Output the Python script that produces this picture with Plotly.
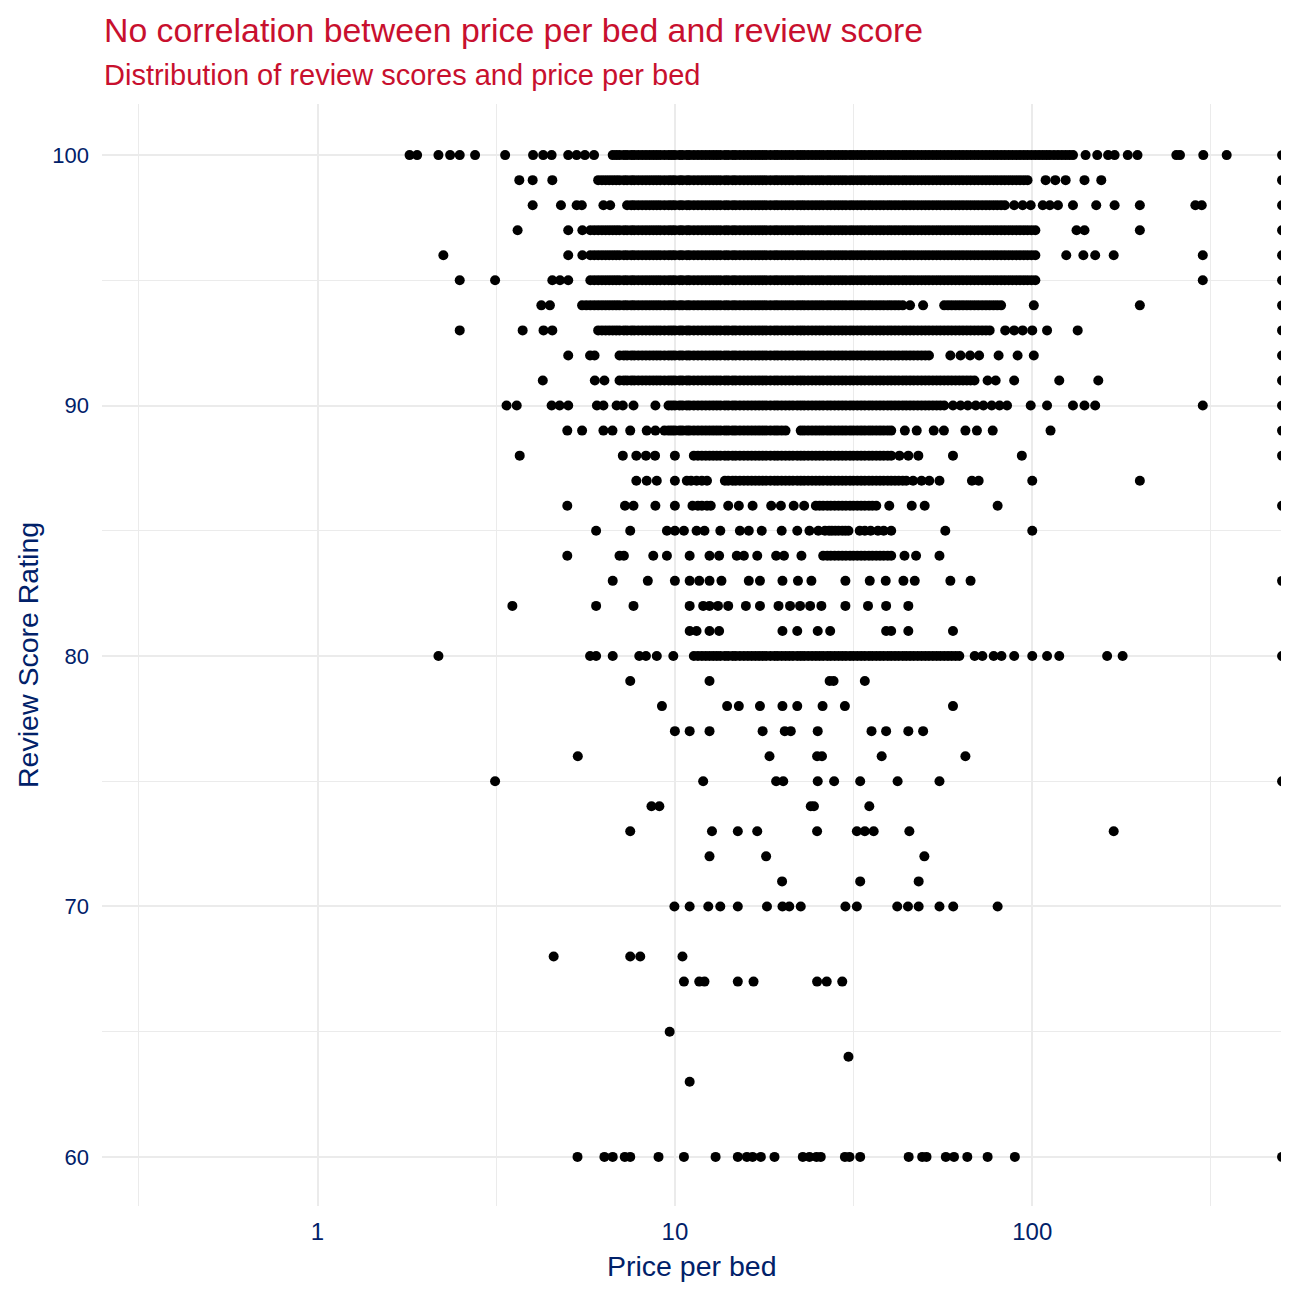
import plotly.graph_objects as go

# Price-per-bed levels that make up the solid (over-plotted) runs
run_a = [5.0, 5.12, 5.25, 5.38, 5.5, 5.65, 5.8, 5.95, 6.1, 6.25, 6.4, 6.55, 6.7, 6.85]
run_b = [7.0, 7.2, 7.35, 7.55, 7.7, 7.9, 8.1, 8.3, 8.5, 8.7, 8.9, 9.1, 9.35, 9.6, 9.8]
run_c = [10.0, 10.3, 10.5, 10.8, 11.0, 11.3, 11.6, 11.9, 12.2, 12.5, 12.8, 13.1, 13.4, 13.8,
         14.1, 14.5, 14.8]
run_d = [15.2, 15.6, 16.0, 16.4, 16.8, 17.2, 17.6, 18.0, 18.5, 19.0, 19.4, 19.9, 20.4, 20.9]
run_e = [21.4, 22.0, 22.5, 23.0, 23.6, 24.2, 24.8, 25.4, 26.0, 26.7, 27.3, 28.0, 28.7, 29.4]
run_f = [30.1, 30.9, 31.6, 32.4, 33.2, 34.0, 34.9, 35.7, 36.6, 37.5, 38.4, 39.4, 40.3, 41.3]
run_g = [42.3, 43.4, 44.4, 45.5, 46.6, 47.8, 49.0, 50.2, 51.4, 52.7, 54.0, 55.3, 56.7, 58.1]
run_h = [59.5, 61.0, 62.5, 64.0, 65.6, 67.2, 68.9, 70.6, 72.4, 74.2, 76.0, 77.9, 79.8, 81.8]
run_i = [83.8, 85.9, 88.0, 90.2, 92.4, 94.7, 97.0, 99.5, 102, 104.5, 107, 109.5, 112, 115,
         118, 121, 124, 127, 130]

# price per bed, one list per review score
score_100 = ([1.81, 1.9, 2.18, 2.35, 2.5, 2.76, 3.35, 4.01, 4.28, 4.52, 5.03, 5.31, 5.6, 5.94]
             + run_a[12:] + run_b + run_c + run_d + run_e + run_f + run_g + run_h + run_i
             + [141, 152, 163, 170, 185, 197, 253, 259, 301, 350, 500])
score_99 = ([3.67, 4.0, 4.54] + run_a[8:] + run_b + run_c + run_d + run_e + run_f + run_g
            + run_h + run_i[:7] + [109, 116, 124, 140, 156, 500])
score_98 = ([4.0, 4.8, 5.31, 5.49, 6.31, 6.59] + run_b[2:] + run_c + run_d + run_e + run_f
            + run_g + run_h + run_i[:1]
            + [89.0, 94.0, 99.0, 107, 112, 118, 130, 151, 170, 200, 286, 298, 500])
score_97 = ([3.63, 5.03, 5.51] + run_a[6:] + run_b + run_c + run_d + run_e + run_f + run_g
            + run_h + run_i[:9] + [133, 140, 200, 500])
score_96 = ([2.25, 5.03, 5.51] + run_a[6:] + run_b + run_c + run_d + run_e + run_f + run_g
            + run_h + run_i[:9] + [124.5, 139, 150, 169, 300, 500])
score_95 = ([2.5, 3.14, 4.54, 4.77, 5.03] + run_a[6:] + run_b + run_c + run_d + run_e + run_f
            + run_g + run_h + run_i[:9] + [300, 500])
score_94 = ([4.23, 4.47] + run_a[4:] + run_b + run_c + run_d + run_e + run_f + run_g[:2]
            + [45.5, 49.5] + run_g[12:] + run_h + [101, 200, 500])
score_93 = ([2.5, 3.75, 4.29, 4.54] + run_a[8:] + run_b + run_c + run_d + run_e + run_f + run_g
            + run_h[:11] + [84.0, 89.0, 94.0, 100, 110, 134, 500])
score_92 = ([5.03, 5.79, 5.96] + run_b + run_c + run_d + run_e + run_f + run_g[:9]
            + [59.0, 63.0, 67.0, 71.0, 80.5, 91.0, 101, 500])
score_91 = ([4.27, 5.97, 6.35] + run_b + run_c + run_d + run_e + run_f + run_g + run_h[:7]
            + [75.0, 79.0, 89.0, 119, 153, 500])
score_90 = ([3.38, 3.61, 4.52, 4.76, 5.03, 6.05, 6.31, 6.87, 7.15, 7.66, 8.82] + run_b[13:]
            + run_c + run_d + run_e + run_f + run_g[:13]
            + [60.0, 63.0, 66.0, 69.5, 73.0, 77.0, 81.0, 85.0, 99.0, 110, 130, 140, 150, 300, 500])
score_89 = ([5.0, 5.5, 6.31, 6.69, 7.5, 8.34, 8.82] + run_b[12:] + run_c + run_d[:13]
            + run_e[2:] + run_f[:13]
            + [44.0, 47.5, 53.0, 56.6, 65.0, 70.0, 77.5, 112.5, 500])
score_88 = ([3.68, 7.15, 7.8, 8.3, 8.8, 10.0] + run_c[5:] + run_d + run_e + run_f[:13]
            + [42.5, 45.0, 48.0, 60.0, 93.5, 500])
score_87 = ([7.8, 8.34, 8.9, 10.0, 10.8, 11.1, 11.5, 11.9, 12.3] + run_c[13:] + run_d + run_e
            + run_f + run_g[:3] + [46.4, 49.0, 51.5, 55.0, 67.8, 70.8, 100, 200])
score_86 = ([5.0, 7.25, 7.66, 8.82, 10.0, 11.2, 11.6, 11.9, 12.3, 12.6, 14.1, 15.1, 16.5, 18.6,
             19.8, 21.5, 23.0] + run_e[6:] + run_f[:9] + [39.8, 46.0, 50.0, 80.0, 500])
score_85 = [6.02, 7.5, 9.5, 10.0, 10.6, 11.5, 12.1, 13.4, 15.2, 16.1, 17.5, 19.9, 22.0, 23.8,
            25.2, 26.3, 27.0, 27.5, 28.1, 28.7, 29.4, 30.0, 30.6, 32.9, 34.0, 35.3, 37.0, 38.4,
            40.3, 57.1, 100]
score_84 = ([5.0, 7.0, 7.2, 8.7, 9.5, 11.0, 12.5, 13.3, 14.9, 15.6, 17.0, 19.2, 20.2, 22.6]
            + run_e[8:] + run_f[:13] + [43.9, 47.3, 55.0])
score_83 = [6.7, 8.4, 10.0, 11.0, 11.7, 12.5, 13.5, 16.1, 17.3, 20.0, 22.1, 24.1, 30.0, 35.1,
            38.9, 43.6, 46.9, 59.0, 67.2, 500]
score_82 = [3.51, 6.02, 7.66, 11.0, 12.0, 12.5, 13.2, 14.1, 15.8, 17.3, 19.5, 21.0, 22.4, 23.9,
            25.7, 30.0, 34.7, 39.0, 45.0]
score_81 = [11.0, 11.5, 12.5, 13.3, 20.0, 22.0, 25.1, 27.2, 39.0, 40.3, 45.0, 60.0]
score_80 = ([2.18, 5.79, 6.02, 6.7, 7.95, 8.3, 8.9, 9.9] + run_c[5:] + run_d + run_e + run_f
            + run_g + run_h[:3]
            + [69.0, 72.5, 78.0, 82.0, 89.0, 100, 110, 119, 162, 179, 500])
score_79 = [7.5, 12.5, 27.1, 27.8, 34.0]
score_78 = [9.2, 14.0, 15.1, 17.3, 20.0, 22.0, 25.9, 29.9, 60.0]
score_77 = [10.0, 11.0, 12.5, 17.6, 20.3, 21.1, 25.1, 35.5, 39.0, 45.0, 49.5]
score_76 = [5.35, 18.4, 25.0, 25.8, 37.9, 65.0]
score_75 = [3.14, 12.0, 19.2, 20.1, 25.1, 27.9, 33.0, 42.0, 55.0, 500]
score_74 = [8.6, 9.05, 24.0, 24.5, 35.0]
score_73 = [7.5, 12.7, 15.0, 17.0, 25.0, 32.3, 34.0, 36.0, 45.3, 169]
score_72 = [12.5, 18.0, 49.9]
score_71 = [19.95, 33.0, 48.1]
score_70 = [9.97, 11.0, 12.4, 13.4, 15.0, 18.1, 20.0, 20.9, 22.5, 30.0, 32.3, 41.9, 44.9, 48.1,
            55.0, 60.1, 80.0]
score_68 = [4.58, 7.5, 8.0, 10.5]
score_67 = [10.6, 11.7, 12.1, 15.0, 16.6, 25.0, 26.6, 29.4]
score_65 = [9.67]
score_64 = [30.6]
score_63 = [11.0]
score_60 = [5.34, 6.35, 6.7, 7.24, 7.5, 9.0, 10.6, 13.0, 15.0, 15.9, 16.5, 17.4, 19.0, 22.8, 23.8,
            24.9, 25.6, 29.9, 30.8, 33.0, 45.1, 49.2, 50.6, 57.3, 60.4, 65.8, 75.0, 89.4, 500]

rows = [
    (100, score_100), (99, score_99), (98, score_98), (97, score_97), (96, score_96),
    (95, score_95), (94, score_94), (93, score_93), (92, score_92), (91, score_91),
    (90, score_90), (89, score_89), (88, score_88), (87, score_87), (86, score_86),
    (85, score_85), (84, score_84), (83, score_83), (82, score_82), (81, score_81),
    (80, score_80), (79, score_79), (78, score_78), (77, score_77), (76, score_76),
    (75, score_75), (74, score_74), (73, score_73), (72, score_72), (71, score_71),
    (70, score_70), (68, score_68), (67, score_67), (65, score_65), (64, score_64),
    (63, score_63), (60, score_60),
]

x_ticks = [1, 10, 100]
x_minor = [0.316, 3.16, 31.6, 316]
y_ticks = [60, 70, 80, 90, 100]
y_minor = [65, 75, 85, 95]

price, score = [], []
for s, prices in rows:
    price += prices
    score += [s] * len(prices)

RED = "#C8102E"
NAVY = "#012169"
GRID = "#EBEBEB"
FONT = "Liberation Sans, Arial, sans-serif"

fig = go.Figure()
fig.add_trace(go.Scatter(
    x=price, y=score, mode="markers",
    marker=dict(color="black", size=10, line=dict(width=0)),
    cliponaxis=True, showlegend=False,
))

fig.update_layout(
    width=1296, height=1296,
    margin=dict(l=102, r=15, t=104, b=90),
    paper_bgcolor="white", plot_bgcolor="white",
    font=dict(family=FONT, color=NAVY),
    xaxis=dict(
        type="log", range=[-0.603, 2.696],
        tickvals=x_ticks, ticktext=[str(v) for v in x_ticks],
        tickfont=dict(size=24, color=NAVY), ticklabelstandoff=9,
        showgrid=True, gridcolor=GRID, gridwidth=2.4,
        minor=dict(tickvals=x_minor, showgrid=True, gridcolor=GRID, gridwidth=1.2),
        zeroline=False, showline=False, ticks="",
    ),
    yaxis=dict(
        range=[58.04, 102.04],
        tickvals=y_ticks,
        tickfont=dict(size=22, color=NAVY), ticklabelstandoff=12,
        showgrid=True, gridcolor=GRID, gridwidth=2.4,
        minor=dict(tickvals=y_minor, showgrid=True, gridcolor=GRID, gridwidth=1.2),
        zeroline=False, showline=False, ticks="",
    ),
    annotations=[
        dict(text="No correlation between price per bed and review score",
             xref="paper", yref="paper", x=0, y=1.0672, xanchor="left", yanchor="middle",
             showarrow=False, font=dict(size=33.8, color=RED, family=FONT)),
        dict(text="Distribution of review scores and price per bed",
             xref="paper", yref="paper", x=0, y=1.0263, xanchor="left", yanchor="middle",
             showarrow=False, font=dict(size=29, color=RED, family=FONT)),
        dict(text="Price per bed",
             xref="paper", yref="paper", x=0.5, y=-0.0544, xanchor="center", yanchor="middle",
             showarrow=False, font=dict(size=28.5, color=NAVY, family=FONT)),
        dict(text="Review Score Rating", textangle=-90,
             xref="paper", yref="paper", x=-0.0628, y=0.5, xanchor="center", yanchor="middle",
             showarrow=False, font=dict(size=28.5, color=NAVY, family=FONT)),
    ],
)

fig.write_html("out.html", config={"displayModeBar": False},
               post_script="document.body.style.margin='0';")
